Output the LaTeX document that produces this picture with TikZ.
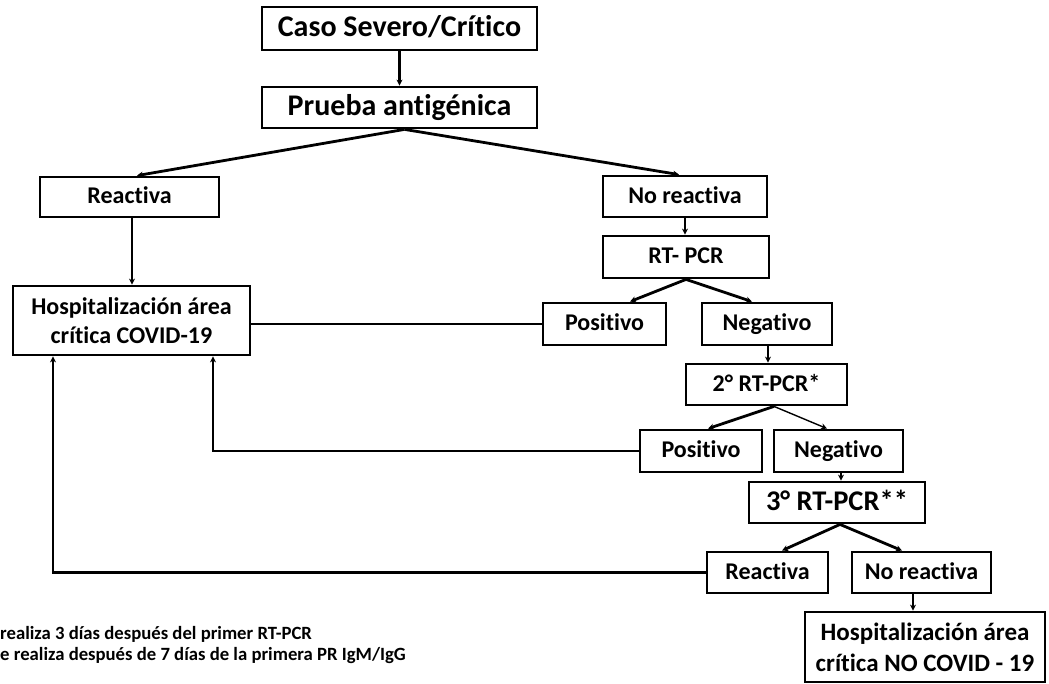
\documentclass[tikz,border=0pt]{standalone}
\usepackage{fontspec}
\setmainfont{Carlito}[Ligatures={NoCommon}]
\usetikzlibrary{arrows.meta,calc}
\tikzset{
  box/.style={draw, line width=2.8pt, inner sep=0pt, align=center, font=\bfseries\fontsize{24}{29}\selectfont},
  one/.style={text height=16.5pt, text depth=3pt},
  bigbox/.style={box, font=\bfseries\fontsize{30}{34}\selectfont, text height=20.5pt, text depth=4pt},
  arr/.style={line width=2.8pt, -{Stealth[length=6pt,width=6pt]}},
  thinarr/.style={line width=1.4pt, -{Stealth[length=6pt,width=6pt]}},
  ln/.style={line width=2.8pt},
  note/.style={anchor=west, inner sep=0pt, font=\bfseries\fontsize{18.7}{22}\selectfont}
}
\begin{document}
\begin{tikzpicture}[x=1pt,y=-1pt]
\useasboundingbox (0,0) rectangle (1049,684);
\node[bigbox, minimum width=275pt, minimum height=43pt] (caso) at (399.5,28.5) {Caso Severo/Crítico};
\node[bigbox, minimum width=275pt, minimum height=41pt] (prueba) at (399.5,107.5) {Prueba antigénica};
\node[box, one, minimum width=179pt, minimum height=40pt] (reactiva) at (129.5,197) {Reactiva};
\node[box, one, minimum width=164pt, minimum height=41pt] (noreact) at (685,196.5) {No reactiva};
\node[box, one, minimum width=166pt, minimum height=42pt] (rtpcr) at (686,257) {RT- PCR};
\node[box, one, minimum width=123pt, minimum height=42pt] (pos1) at (604.5,324) {Positivo};
\node[box, one, minimum width=130pt, minimum height=42pt] (neg1) at (767,324) {Negativo};
\node[box, one, minimum width=161pt, minimum height=41pt] (second) at (766.5,384.5) {2° RT-PCR*};
\node[box, one, minimum width=122pt, minimum height=42pt] (pos2) at (701,451) {Positivo};
\node[box, one, minimum width=129pt, minimum height=42pt] (neg2) at (838.5,451) {Negativo};
\node[box, font=\bfseries\fontsize{28.5}{33}\selectfont, text height=19.5pt, text depth=3.5pt, minimum width=176pt, minimum height=41pt] (third) at (837,502.5) {3° RT-PCR**};
\node[box, one, minimum width=121pt, minimum height=41pt] (react3) at (767.5,572.5) {Reactiva};
\node[box, one, minimum width=139pt, minimum height=41pt] (noreact3) at (921.5,572.5) {No reactiva};
\node[box, font=\bfseries\fontsize{25}{31}\selectfont, minimum width=240pt, minimum height=70pt] (hospno) at (925,647) {Hospitalización área\\crítica NO COVID - 19};
\node[box, minimum width=237pt, minimum height=69pt] (hosp) at (131.5,320.5) {Hospitalización área\\crítica COVID-19};

\draw[arr] (caso.south) -- (prueba.north);
\draw[arr] ($(prueba.south)+(5,0)$) -- ($(reactiva.north)+(7.5,0)$);
\draw[arr] ($(prueba.south)+(5,0)$) -- ($(noreact.north)+(-6,0)$);
\draw[arr] ($(reactiva.south)+(2.5,0)$) -- ($(hosp.north)+(0.5,0)$);
\draw[arr] (noreact.south) -- (noreact.south |- rtpcr.north);
\draw[arr] (rtpcr.south) -- ($(pos1.north)+(25.5,0)$);
\draw[arr] (rtpcr.south) -- ($(neg1.north)+(-15,0)$);
\draw[arr] ($(neg1.south)+(1,0)$) -- ($(second.north)+(1.5,0)$);
\draw[arr] ($(second.south)+(7.5,0)$) -- ($(pos2.north)+(7,0)$);
\draw[thinarr] ($(second.south)+(7.5,0)$) -- ($(neg2.north)+(-11.5,0)$);
\draw[arr] ($(neg2.south)+(2.5,0)$) -- ($(third.north)+(4,0)$);
\draw[arr] ($(third.south)+(3,0)$) -- ($(react3.north)+(14.5,0)$);
\draw[arr] ($(third.south)+(3,0)$) -- ($(noreact3.north)+(-19.5,0)$);
\draw[arr] ($(noreact3.south)+(-8.5,0)$) -- ($(hospno.north)+(-12,0)$);
\draw[ln] (pos1.west -| hosp.east) -- (pos1.west);
\draw[arr] (pos2.west) -| ($(hosp.south)+(81.5,0)$);
\draw[arr] (react3.west) -| ($(hosp.south)+(-78.5,0)$);

\node[note] (fn1) at (0,634) {realiza 3 días después del primer RT-PCR};
\node[note] (fn2) at (0,656) {e realiza después de 7 días de la primera PR IgM/IgG};
\end{tikzpicture}
\end{document}
